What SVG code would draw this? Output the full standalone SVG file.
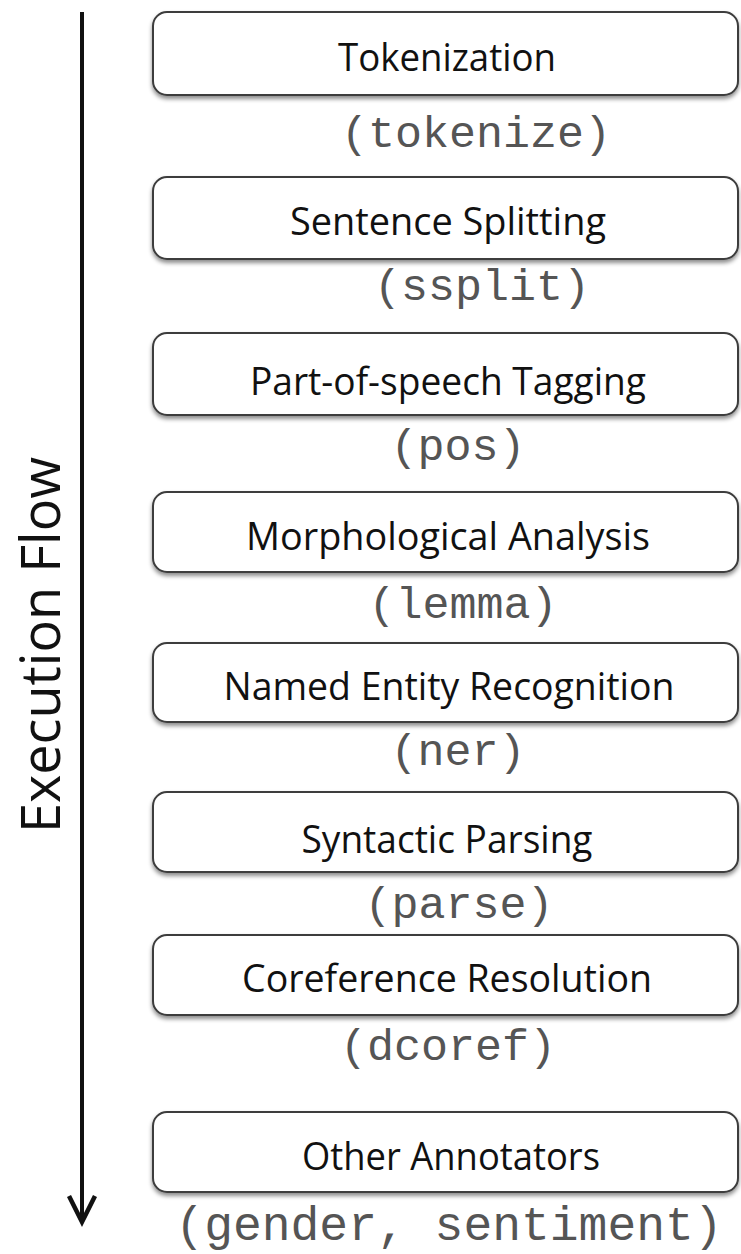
<svg xmlns="http://www.w3.org/2000/svg" width="741" height="1254" viewBox="0 0 741 1254">
<style>
.box{fill:#ffffff;stroke:#3c3c3c;stroke-width:2;filter:url(#sh)}
.t{font-family:"Open Sans","Liberation Sans",sans-serif;font-size:38px;fill:#111;text-anchor:middle}
.m{font-family:"Liberation Mono","Courier New",monospace;font-size:45px;fill:#555;text-anchor:middle}
.flow{font-family:"Open Sans","Liberation Sans",sans-serif;font-size:55px;fill:#111;text-anchor:middle}
</style>
<defs>
<filter id="sh" x="-5%" y="-10%" width="110%" height="130%">
<feDropShadow dx="0" dy="3" stdDeviation="2" flood-color="#000" flood-opacity="0.45"/>
</filter>
</defs>
<rect width="741" height="1254" fill="#ffffff"/>
<g id="connectors">
<line x1="82" y1="12" x2="82" y2="1220" stroke="#111" stroke-width="4"/>
<polyline points="69,1196 82,1222 95,1196" fill="none" stroke="#111" stroke-width="4.5" stroke-linejoin="miter"/>
</g>
<g id="flow-label">
<text class="flow" transform="translate(60,645) rotate(-90)" textLength="376" lengthAdjust="spacingAndGlyphs">Execution Flow</text>
</g>
<g id="n1">
<rect class="box" x="153" y="12" width="585" height="83" rx="14"/>
<text class="t" x="447" y="71" textLength="218" lengthAdjust="spacingAndGlyphs">Tokenization</text>
<text class="m" x="476" y="147">(tokenize)</text>
</g>
<g id="n2">
<rect class="box" x="153" y="177" width="585" height="82" rx="14"/>
<text class="t" x="448" y="235" textLength="316" lengthAdjust="spacingAndGlyphs">Sentence Splitting</text>
<text class="m" x="482" y="300">(ssplit)</text>
</g>
<g id="n3">
<rect class="box" x="153" y="333" width="585" height="82" rx="14"/>
<text class="t" x="448" y="395" textLength="396" lengthAdjust="spacingAndGlyphs">Part-of-speech Tagging</text>
<text class="m" x="458" y="460">(pos)</text>
</g>
<g id="n4">
<rect class="box" x="153" y="492" width="585" height="80" rx="14"/>
<text class="t" x="448" y="550" textLength="404" lengthAdjust="spacingAndGlyphs">Morphological Analysis</text>
<text class="m" x="463" y="618">(lemma)</text>
</g>
<g id="n5">
<rect class="box" x="153" y="643" width="585" height="79" rx="14"/>
<text class="t" x="449" y="700" textLength="451" lengthAdjust="spacingAndGlyphs">Named Entity Recognition</text>
<text class="m" x="458" y="765">(ner)</text>
</g>
<g id="n6">
<rect class="box" x="153" y="792" width="585" height="80" rx="14"/>
<text class="t" x="447" y="853" textLength="291" lengthAdjust="spacingAndGlyphs">Syntactic Parsing</text>
<text class="m" x="459" y="918">(parse)</text>
</g>
<g id="n7">
<rect class="box" x="153" y="935" width="585" height="80" rx="14"/>
<text class="t" x="447" y="992" textLength="410" lengthAdjust="spacingAndGlyphs">Coreference Resolution</text>
<text class="m" x="448" y="1060">(dcoref)</text>
</g>
<g id="n8">
<rect class="box" x="153" y="1112" width="585" height="80" rx="14"/>
<text class="t" x="451" y="1170" textLength="298" lengthAdjust="spacingAndGlyphs">Other Annotators</text>
<text class="m" x="449" y="1240" style="font-size:48px">(gender, sentiment)</text>
</g>
</svg>
